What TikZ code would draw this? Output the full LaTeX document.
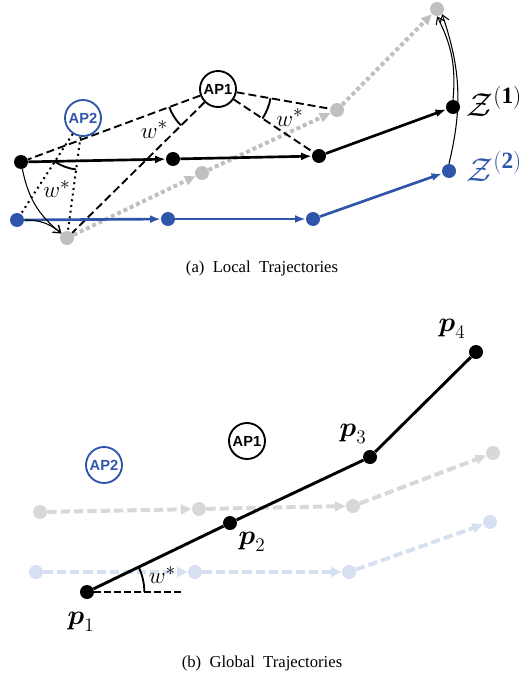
\documentclass[tikz,border=0pt]{standalone}
\usepackage{amsmath}
\usepackage{fontspec}
\setmainfont{Liberation Serif}
\newfontfamily\apfont{Liberation Sans}
\usetikzlibrary{arrows.meta, angles, quotes}

\begin{document}
\begin{tikzpicture}[
    x=0.75pt, y=0.75pt,
    blkdot/.style={
        circle, fill=black, inner sep=0pt, minimum size=10.5pt
    },
    bludot/.style={blkdot, fill={rgb,255:red,47;green,85;blue,170}},
    grydot/.style={blkdot, fill={rgb,255:red,192;green,192;blue,192}},
    lgdot/.style={blkdot, fill={rgb,255:red,216;green,216;blue,216}},
    lbdot/.style={blkdot, fill={rgb,255:red,214;green,224;blue,240}},
    ap/.style={
        circle, draw, line width=1.4pt,
        minimum size=27pt, inner sep=0pt,
        font=\apfont\bfseries\fontsize{11}{12}\selectfont
    },
    apblue/.style={
        ap,
        draw={rgb,255:red,47;green,85;blue,170},
        text={rgb,255:red,47;green,85;blue,170}
    },
    blk/.style={
        -{Latex[length=8pt,width=6pt]},
        line width=2pt
    },
    blu/.style={blk, color={rgb,255:red,47;green,85;blue,170}},
    gry/.style={
        -{Triangle[length=8pt,width=7pt]},
        line width=3pt, dash pattern=on 3pt off 2.2pt,
        color={rgb,255:red,192;green,192;blue,192}
    },
    aplink/.style={line width=1.4pt, dash pattern=on 6pt off 3pt},
    ap2link/.style={line width=1.5pt, dash pattern=on 1.5pt off 2.8pt},
    rot/.style={
        -{Straight Barb[length=5pt,width=7pt]},
        line width=0.8pt
    },
    ang/.style={
        draw, line width=1.4pt,
        angle eccentricity=1.45,
        pic text={$w^*$},
        pic text options={font=\fontsize{19}{22}\selectfont}
    },
    glob/.style={line width=2.2pt},
    ghost/.style={
        -{Triangle[length=8pt,width=7pt]},
        line width=3pt, dash pattern=on 7pt off 3pt,
        color={rgb,255:red,216;green,216;blue,216}
    },
    ghostb/.style={ghost, color={rgb,255:red,214;green,224;blue,240}},
    plab/.style={font=\fontsize{22}{26}\selectfont},
    zlab/.style={anchor=base west, font=\fontsize{25}{28}\selectfont},
    captxt/.style={font=\fontsize{12.5}{15}\selectfont}
]

\useasboundingbox (0,0) rectangle (524,-685);

%% ── (a) Local trajectories: nodes ───────────────────────────────────
\node[ap]     (ap1) at (218,-89)  {AP1};
\node[apblue] (ap2) at (83,-118)  {AP2};

\node[blkdot] (b1) at (21,-162)  {};
\node[blkdot] (b2) at (173,-159) {};
\node[blkdot] (b3) at (319,-156) {};
\node[blkdot] (b4) at (453,-107) {};

\node[bludot] (u1) at (17,-220)  {};
\node[bludot] (u2) at (168,-219) {};
\node[bludot] (u3) at (313,-219) {};
\node[bludot] (u4) at (449,-171) {};

\node[grydot] (g1) at (67,-238)  {};
\node[grydot] (g2) at (202,-173) {};
\node[grydot] (g3) at (337,-110) {};
\node[grydot] (g4) at (437,-9)   {};

%% ── (a) rotated trajectory ──────────────────────────────────────────
\draw[gry] (g1) -- (g2);
\draw[gry] (g2) -- (g3);
\draw[gry] (g3) -- (g4);

%% ── (a) links to the access points ─────────────────────────────────
\draw[aplink] (ap1) -- (b1);
\draw[aplink] (ap1) -- (g1);
\draw[aplink] (ap1) -- (g3);
\draw[aplink] (ap1) -- (b3);

\draw[ap2link] (ap2) -- (u1);
\draw[ap2link] (ap2) -- (g1);

\pic[ang, angle radius=39pt] {angle = b1--ap1--g1};
\pic[ang, angle radius=40pt] {angle = b3--ap1--g3};
\pic[ang, angle radius=39pt] {angle = u1--ap2--g1};

%% ── (a) trajectories ───────────────────────────────────────────────
\draw[blk] (b1) -- (b2);
\draw[blk] (b2) -- (b3);
\draw[blk] (b3) -- (b4);

\draw[blu] (u1) -- (u2);
\draw[blu] (u2) -- (u3);
\draw[blu] (u3) -- (u4);

%% ── (a) rotations ──────────────────────────────────────────────────
\draw[rot] (b1) to[bend right=20] (g1);
\draw[rot] (u1) to[bend left=20] (g1);
\draw[rot] (u4.north) to[bend right=16] (g4.south east);
\draw[rot] (b4.north) to[bend right=16] (g4.south);

\node[zlab] (z1) at (462,-116) {$\mathcal{Z}^{(\mathbf{1})}$};
\node[zlab, text={rgb,255:red,47;green,85;blue,170}]
    (z2) at (462,-181) {$\mathcal{Z}^{(\mathbf{2})}$};

\node[captxt] (capa) at (262,-268) {(a)\enspace Local\enspace Trajectories};

%% ── (b) Global trajectories: nodes ──────────────────────────────────
\node[ap]     (ap1b) at (247,-441) {AP1};
\node[apblue] (ap2b) at (104,-465) {AP2};

\node[lgdot] (q1) at (40,-512)  {};
\node[lgdot] (q2) at (199,-509) {};
\node[lgdot] (q3) at (353,-506) {};
\node[lgdot] (q4) at (493,-453) {};

\node[lbdot] (r1) at (36,-572)  {};
\node[lbdot] (r2) at (195,-572) {};
\node[lbdot] (r3) at (349,-572) {};
\node[lbdot] (r4) at (490,-522) {};

\draw[ghost] (q1) -- (q2);
\draw[ghost] (q2) -- (q3);
\draw[ghost] (q3) -- (q4);

\draw[ghostb] (r1) -- (r2);
\draw[ghostb] (r2) -- (r3);
\draw[ghostb] (r3) -- (r4);

\node[blkdot] (p1) at (87,-592)  {};
\node[blkdot] (p2) at (230,-523) {};
\node[blkdot] (p3) at (370,-457) {};
\node[blkdot] (p4) at (476,-352) {};
\coordinate (hz) at (183,-592);

\draw[glob] (p1) -- (p2) -- (p3) -- (p4);
\draw[line width=1.2pt, dash pattern=on 5pt off 2.5pt] (p1) -- (hz);
\pic[ang, angle radius=43pt, angle eccentricity=1.35] {angle = hz--p1--p2};

\node[plab] (l1) at (81,-622)  {$\boldsymbol{p}_1$};
\node[plab] (l2) at (252,-542) {$\boldsymbol{p}_2$};
\node[plab] (l3) at (353,-434) {$\boldsymbol{p}_3$};
\node[plab] (l4) at (452,-329) {$\boldsymbol{p}_4$};

\node[captxt] (capb) at (262,-663) {(b)\enspace Global\enspace Trajectories};

\end{tikzpicture}
\end{document}
